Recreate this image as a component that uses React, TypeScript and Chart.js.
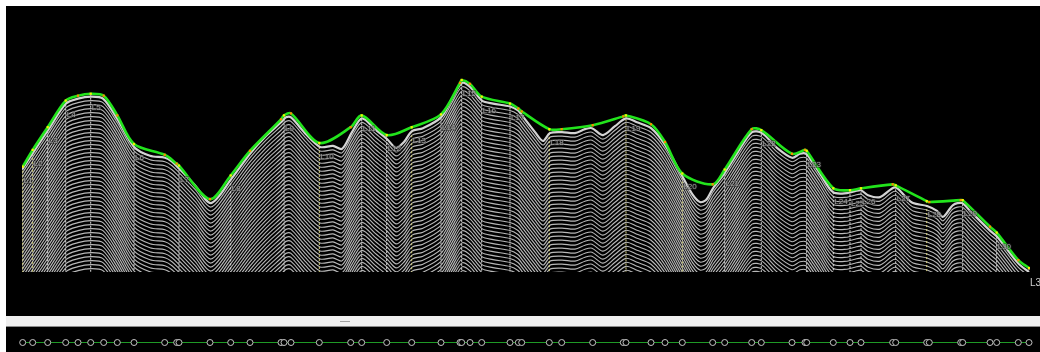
import { useEffect, useRef } from "react";
import { Chart, registerables } from "chart.js";

Chart.register(...registerables);

// Ground profile along the traverse: distance (m) and elevation (m above datum)
const TERRAIN_DIST = [
  0, 11, 26, 44, 56, 69, 81, 95, 112, 128, 143, 150, 157, 173, 189, 209, 228, 244, 259, 264,
  269, 283, 298, 311, 320, 330, 340, 353, 365, 374, 382, 390, 401, 419, 430, 440, 448, 460, 471, 488,
  496, 500, 513, 521, 528, 540, 553, 563, 570, 581, 593, 604, 615, 629, 643, 661, 671, 678, 684, 691,
  703, 716, 730, 740, 755, 770, 778, 784, 790, 798, 811, 825, 833, 839, 846, 858, 873, 883, 891, 905,
  915, 921, 931, 940, 948, 968, 975, 996, 1007,
];
const TERRAIN_ELEV = [
  104, 121, 144, 171, 176, 178, 176, 156, 127, 118, 116, 112, 105, 88, 70, 94, 120, 138, 152, 157,
  157, 141, 127, 128, 125, 142, 156, 145, 135, 126, 132, 143, 146, 157, 176, 192, 188, 174, 171, 168,
  164, 159, 142, 133, 141, 142, 141, 145, 146, 139, 148, 156, 152, 146, 129, 96, 78, 71, 73, 85,
  101, 122, 142, 141, 126, 116, 120, 120, 112, 100, 81, 80, 82, 83, 78, 76, 86, 77, 70, 67,
  62, 56, 68, 70, 62, 42, 36, 9, 0,
];

// Surveyed ridge line vertices (distance, elevation)
const RIDGE_DIST = [
  0.7, 10.7, 25.7, 43.7, 56, 68.7, 81.7, 95.3, 112, 142.7, 154.7, 157, 188, 208.7, 228, 259, 262, 269,
  297.3, 328.7, 339.7, 364.7, 389.7, 419, 438, 439.7, 448, 459.7, 488, 496.3, 499.7, 527.3, 539.7,
  570.7, 601.3, 604, 629, 643, 660.3, 690.7, 702.7, 729.7, 739.3, 770, 783, 784.7, 811.3, 828, 839,
  870.7, 873.7, 904.7, 907.3, 938.7, 940.7, 968, 974.7, 996.3, 1007,
];
const RIDGE_ELEV = [
  107, 124, 147, 174, 179, 181, 179, 159, 130, 119, 110, 108, 74, 98, 123, 155, 159, 161,
  131, 147, 159, 139, 147, 160, 192, 195, 191, 178, 171, 166, 163, 145, 145,
  149, 158, 159, 150, 132, 100, 89, 104, 145, 144, 120, 124, 123, 85, 83, 85,
  89, 88, 72, 71, 73, 73, 46, 40, 12, 4,
];

// Named stations
const STATION_NAMES = [
  "L1", "L2", "L3", "L4", "L5", "L6", "L7", "L8", "L9", "L10", "L11", "L12", "L13", "L14", "L15", "L16",
  "L17", "L18", "L19", "L20", "L21", "L22", "L23", "L24", "L25", "L26", "L27", "L28", "L29", "L30", "L31",
];
const STATION_DIST = [
  0.7, 10.7, 25.7, 43.7, 68.7, 112, 157, 208.7, 262, 297.3, 339.7, 364.7, 389.7, 419, 439.7, 459.7,
  488, 527.3, 604, 660.3, 702.7, 739.3, 784.7, 811.3, 828, 839, 873.7, 904.7, 940.7, 974.7, 1007,
];
// stations marked with the yellow survey pegs
const PEG_STATIONS = ["L1", "L2", "L10", "L13", "L18", "L19", "L20", "L28"];

const X_MAX = 1008;
const Y_MAX = 266;

function ridgeAt(d: number): number {
  for (let i = 1; i < RIDGE_DIST.length; i++) {
    if (d <= RIDGE_DIST[i]) {
      const d0 = RIDGE_DIST[i - 1];
      const d1 = RIDGE_DIST[i];
      const t = d1 === d0 ? 0 : (d - d0) / (d1 - d0);
      return RIDGE_ELEV[i - 1] + t * (RIDGE_ELEV[i] - RIDGE_ELEV[i - 1]);
    }
  }
  return RIDGE_ELEV[RIDGE_ELEV.length - 1];
}

// Repeats the ground profile downwards as contour hatching under the surface
const hatchPlugin = {
  id: "profileHatch",
  beforeDatasetsDraw(chart: any) {
    const idx = chart.data.datasets.findIndex((d: any) => d.label === "ground");
    if (idx < 0) return;
    const pts = chart.getDatasetMeta(idx).data as any[];
    const { ctx, chartArea } = chart;
    ctx.save();
    ctx.beginPath();
    ctx.rect(chartArea.left, chartArea.top, chartArea.right - chartArea.left, chartArea.bottom - chartArea.top);
    ctx.clip();
    ctx.strokeStyle = "rgba(200,200,200,0.92)";
    ctx.lineWidth = 1.15;
    const step = 4;
    for (let k = 1; k <= 60; k++) {
      const off = k * step;
      ctx.beginPath();
      pts.forEach((p, i) => {
        if (i === 0) {
          ctx.moveTo(p.x, p.y + off);
        } else {
          const q = pts[i - 1];
          if (q.cp2x !== undefined && p.cp1x !== undefined) {
            ctx.bezierCurveTo(q.cp2x, q.cp2y + off, p.cp1x, p.cp1y + off, p.x, p.y + off);
          } else {
            ctx.lineTo(p.x, p.y + off);
          }
        }
      });
      ctx.stroke();
    }
    ctx.restore();
  },
};

// Station names under the ridge line
const stationLabelPlugin = {
  id: "stationLabels",
  afterDatasetsDraw(chart: any) {
    const { ctx } = chart;
    const xs = chart.scales.x;
    const ys = chart.scales.y;
    ctx.save();
    ctx.textBaseline = "middle";
    ctx.textAlign = "left";
    ctx.lineJoin = "round";
    STATION_NAMES.forEach((name, i) => {
      const d = STATION_DIST[i];
      const px = xs.getPixelForValue(d) + 1;
      const py = ys.getPixelForValue(ridgeAt(d) - 14);
      const last = i === STATION_NAMES.length - 1;
      if (last) {
        ctx.font = "10px 'Liberation Sans', sans-serif";
        ctx.fillStyle = "#cfcfcf";
        ctx.fillText(name, px, py + 1);
        return;
      }
      ctx.font = "8px 'Liberation Sans', sans-serif";
      ctx.strokeStyle = "rgba(40,40,40,0.45)";
      ctx.lineWidth = 2;
      ctx.strokeText(name, px, py);
      ctx.fillStyle = "#a2a2a2";
      ctx.fillText(name, px, py);
    });
    ctx.restore();
  },
};

function guideData(names: string[]) {
  const out: any[] = [];
  STATION_NAMES.forEach((n, i) => {
    if (!names.includes(n)) return;
    const d = STATION_DIST[i];
    out.push({ x: d, y: ridgeAt(d) }, { x: d, y: 0 }, { x: d, y: null });
  });
  return out;
}

export default function App() {
  const topRef = useRef<HTMLCanvasElement | null>(null);
  const botRef = useRef<HTMLCanvasElement | null>(null);

  useEffect(() => {
    if (!topRef.current || !botRef.current) return;

    const pegNames = STATION_NAMES.filter((n) => PEG_STATIONS.includes(n));
    const plainNames = STATION_NAMES.filter((n) => !PEG_STATIONS.includes(n));
    const stationSet = new Set(STATION_DIST);

    const top = new Chart(topRef.current, {
      type: "line",
      data: {
        datasets: [
          {
            label: "ridge",
            data: RIDGE_DIST.map((d, i) => ({ x: d, y: RIDGE_ELEV[i] })),
            borderColor: "#22e41c",
            borderWidth: 2.6,
            tension: 0.3,
            pointStyle: "rect",
            pointRadius: 1.6,
            pointBorderWidth: 0,
            pointBackgroundColor: RIDGE_DIST.map((d) => (stationSet.has(d) ? "#f2f200" : "#ff8a00")),
            order: 0,
          },
          {
            label: "ground",
            data: TERRAIN_DIST.map((d, i) => ({ x: d, y: TERRAIN_ELEV[i] })),
            borderColor: "#d4d4d4",
            borderWidth: 2.2,
            tension: 0.3,
            pointRadius: 0,
            clip: 0,
            order: 1,
          },
          {
            label: "pegs",
            data: guideData(pegNames),
            borderColor: "#d8d27a",
            borderWidth: 1,
            borderDash: [2, 2],
            pointRadius: 0,
            spanGaps: false,
            clip: 0,
            order: 2,
          },
          {
            label: "stations",
            data: guideData(plainNames),
            borderColor: "#dcdcdc",
            borderWidth: 1,
            borderDash: [2, 2],
            pointRadius: 0,
            spanGaps: false,
            clip: 0,
            order: 2,
          },
        ] as any,
      },
      options: {
        animation: false,
        responsive: false,
        maintainAspectRatio: false,
        events: [],
        layout: { padding: { left: 16, right: 10, top: 0, bottom: 44 } },
        scales: {
          x: { type: "linear", display: false, min: 0, max: X_MAX },
          y: { type: "linear", display: false, min: 0, max: Y_MAX },
        },
        plugins: { legend: { display: false }, tooltip: { enabled: false } },
      },
      plugins: [hatchPlugin, stationLabelPlugin],
    });

    const bottom = new Chart(botRef.current, {
      type: "line",
      data: {
        datasets: [
          {
            label: "vertices",
            data: RIDGE_DIST.map((d) => ({ x: d, y: 0 })),
            borderColor: "#1f9a26",
            borderWidth: 1,
            pointRadius: 3,
            pointBorderWidth: 1,
            pointBorderColor: "#c4c4c4",
            pointBackgroundColor: "#000000",
            clip: false,
          } as any,
        ],
      },
      options: {
        animation: false,
        responsive: false,
        maintainAspectRatio: false,
        events: [],
        layout: { padding: { left: 16, right: 10, top: 11, bottom: 0 } },
        scales: {
          x: { type: "linear", display: false, min: 0, max: X_MAX },
          y: { type: "linear", display: false, min: -1, max: 1 },
        },
        plugins: { legend: { display: false }, tooltip: { enabled: false } },
      },
    });

    return () => {
      top.destroy();
      bottom.destroy();
    };
  }, []);

  return (
    <div
      style={{
        position: "fixed",
        left: 0,
        top: 0,
        width: 1040,
        height: 352,
        background: "#ffffff",
        overflow: "hidden",
      }}
    >
      <canvas
        ref={topRef}
        width={1034}
        height={310}
        style={{ position: "absolute", left: 6, top: 6, width: 1034, height: 310, background: "#000" }}
      />
      <div
        style={{
          position: "absolute",
          left: 6,
          top: 316,
          width: 1034,
          height: 10,
          background: "#efefef",
          borderBottom: "1px solid #8a8a8a",
        }}
      >
        <div style={{ position: "absolute", left: 334, top: 5, width: 10, height: 1, background: "#a0a0a0" }} />
      </div>
      <canvas
        ref={botRef}
        width={1034}
        height={25}
        style={{ position: "absolute", left: 6, top: 327, width: 1034, height: 25, background: "#000" }}
      />
    </div>
  );
}
